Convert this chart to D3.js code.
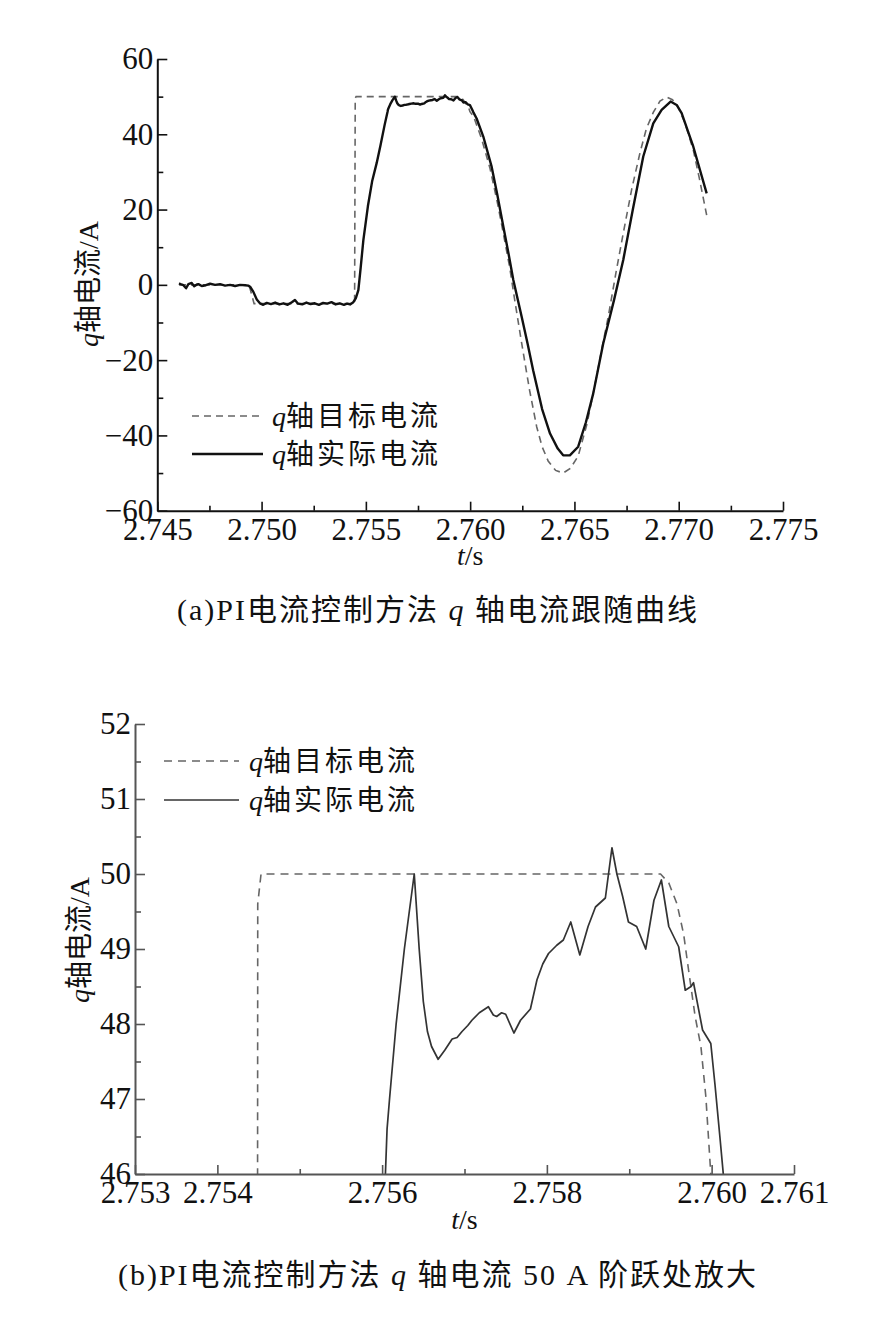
<!DOCTYPE html>
<html>
<head>
<meta charset="utf-8">
<script src="https://cdn.jsdelivr.net/npm/d3@7"></script>
<style>
  body { margin: 0; background: #fff; }
  svg text { font-family: "Liberation Serif", "Noto Sans CJK SC", serif; fill: #111; }
</style>
</head>
<body>
<svg width="880" height="1337"></svg>
<script>
// q-axis target current, [t (s), i (A)]
const targetCurrent = [
  [2.74604, 0], [2.7494, 0], [2.74964, -5], [2.75446, -5], [2.75449, 49.6], [2.75453, 50],
  [2.75938, 50], [2.75948, 49.88], [2.75958, 49.6], [2.75966, 49.2], [2.75972, 48.72],
  [2.7598, 48.1], [2.75987, 47.7], [2.75993, 47.03], [2.75999, 46.0], [2.76016, 44.8],
  [2.76055, 38.8], [2.76095, 31.0], [2.7613, 22.0], [2.76159, 13.7], [2.7619, 4.5],
  [2.76215, -4.5], [2.76247, -15.5], [2.76285, -28.0], [2.76319, -37.7], [2.76345, -43.0],
  [2.76374, -46.8], [2.7641, -49.3], [2.76446, -50.0], [2.7648, -48.8], [2.76518, -45.5],
  [2.7656, -37.0], [2.76606, -24.4], [2.76635, -16.0], [2.76662, -8.5], [2.767, 3.5],
  [2.76734, 13.7], [2.76775, 25.5], [2.76814, 35.0], [2.76845, 41.5], [2.76878, 45.8],
  [2.7691, 48.8], [2.76942, 49.9], [2.7697, 49.2], [2.76995, 47.5], [2.7703, 43.0],
  [2.7707, 35.8], [2.771, 28.0], [2.77134, 18.5]
];

// q-axis actual current, [t (s), i (A)]
const actualCurrent = [
  [2.74604, 0.4], [2.74615, 0.1], [2.74625, -0.1], [2.74638, -0.9], [2.74649, 0.2],
  [2.74665, 0.5], [2.74677, -0.4], [2.7469, 0.1], [2.74697, 0.2], [2.74713, -0.3],
  [2.74733, -0.1], [2.74753, 0.3], [2.74777, 0.0], [2.74801, 0.2], [2.74825, -0.2],
  [2.74849, 0.0], [2.74873, -0.3], [2.74897, 0.0], [2.74921, -0.1], [2.74936, -0.2],
  [2.74945, -0.5], [2.7496, -1.8], [2.74977, -3.9], [2.74992, -4.9], [2.75008, -5.3],
  [2.75025, -4.8], [2.75045, -5.1], [2.75065, -4.7], [2.75085, -5.2], [2.75105, -4.9],
  [2.75125, -5.3], [2.75145, -4.6], [2.7516, -4.0], [2.75175, -5.0], [2.75195, -5.2],
  [2.75215, -4.7], [2.75235, -5.1], [2.75255, -4.9], [2.75275, -5.3], [2.75295, -4.8],
  [2.75315, -5.0], [2.75335, -4.6], [2.75355, -5.2], [2.75375, -4.9], [2.75395, -5.3],
  [2.7541, -5.0], [2.75424, -5.2], [2.7544, -4.6], [2.75452, -3.5], [2.75464, -1.4],
  [2.75475, 4.5], [2.75488, 11.9], [2.7551, 21.0], [2.7553, 27.5], [2.75552, 32.4],
  [2.7557, 37.0], [2.7559, 42.5], [2.75604, 46.0], [2.75606, 46.6], [2.75609, 47.0],
  [2.75617, 48.0], [2.75627, 49.0], [2.75639, 50.0], [2.75645, 49.0], [2.7565, 48.3],
  [2.75655, 47.9], [2.7566, 47.7], [2.75668, 47.53], [2.75676, 47.65], [2.75685, 47.8],
  [2.75691, 47.82], [2.75697, 47.9], [2.75704, 47.98], [2.75709, 48.05], [2.75718, 48.15],
  [2.75729, 48.23], [2.75735, 48.12], [2.75739, 48.1], [2.75745, 48.15], [2.7575, 48.13],
  [2.7576, 47.88], [2.75768, 48.05], [2.7578, 48.2], [2.75788, 48.59], [2.75795, 48.8],
  [2.75802, 48.94], [2.75812, 49.05], [2.7582, 49.12], [2.75829, 49.36], [2.7584, 48.92],
  [2.7585, 49.3], [2.75859, 49.56], [2.75871, 49.68], [2.75879, 50.35], [2.75885, 50.0],
  [2.75892, 49.7], [2.75899, 49.36], [2.75909, 49.3], [2.7592, 49.0], [2.7593, 49.65],
  [2.75939, 49.92], [2.75948, 49.3], [2.7596, 49.03], [2.75968, 48.45], [2.75975, 48.5],
  [2.75978, 48.55], [2.75989, 47.92], [2.75999, 47.74], [2.76004, 47.2], [2.7601, 46.5],
  [2.76015, 45.9], [2.76031, 44.2], [2.76063, 39.4], [2.76103, 31.4], [2.7613, 24.0],
  [2.76159, 15.5], [2.76185, 8.0], [2.76207, 1.3], [2.76247, -8.5], [2.76275, -15.5],
  [2.76302, -22.7], [2.76345, -33.0], [2.76383, -39.5], [2.7642, -43.5], [2.76446, -45.3],
  [2.76478, -45.3], [2.76518, -43.0], [2.76555, -36.5], [2.7659, -28.9], [2.76638, -15.6],
  [2.7669, -4.0], [2.76734, 6.6], [2.7678, 20.0], [2.7683, 34.1], [2.76878, 42.9],
  [2.76918, 46.5], [2.76961, 48.7], [2.7699, 47.8], [2.77014, 45.6], [2.7707, 36.7],
  [2.77134, 24.3]
];

// tick values
const topXTicks = [2.745, 2.750, 2.755, 2.760, 2.765, 2.770, 2.775];
const topXMinor = [2.7475, 2.7525, 2.7575, 2.7625, 2.7675, 2.7725];
const topYTicks = [-60, -40, -20, 0, 20, 40, 60];
const topYMinor = [-50, -30, -10, 10, 30, 50];
const botXTicks = [2.753, 2.754, 2.756, 2.758, 2.760, 2.761];
const botXMinor = [2.755, 2.757, 2.759];
const botYTicks = [46, 47, 48, 49, 50, 51, 52];
const botYMinor = [46.5, 47.5, 48.5, 49.5, 50.5, 51.5];

const legendNames = ["轴目标电流", "轴实际电流"];
const captions = [
  ["(a)PI电流控制方法 ", "q", " 轴电流跟随曲线"],
  ["(b)PI电流控制方法 ", "q", " 轴电流 50 A 阶跃处放大"]
];

const svg = d3.select("svg");
const serif = "'Liberation Serif', 'Times New Roman', serif";

const panels = [
  {
    id: "a", left: 157.3, right: 783, top: 59, bottom: 510.7,
    xDomain: [2.745, 2.775], yDomain: [-60, 60],
    xTicks: topXTicks, xMinor: topXMinor, yTicks: topYTicks, yMinor: topYMinor,
    axisColor: "#111", actualColor: "#111", actualWidth: 2.4,
    targetColor: "#666", targetWidth: 1.6, dash: "7,5",
    legendX: [192, 263], legendY: [416, 454], legendText: 272,
    yTitle: [88, 284], xTitleY: 565, captionY: 620
  },
  {
    id: "b", left: 135, right: 794, top: 724, bottom: 1174,
    xDomain: [2.753, 2.761], yDomain: [46, 52],
    xTicks: botXTicks, xMinor: botXMinor, yTicks: botYTicks, yMinor: botYMinor,
    axisColor: "#555", actualColor: "#333", actualWidth: 1.7,
    targetColor: "#666", targetWidth: 1.6, dash: "8,6",
    legendX: [164, 239], legendY: [761, 800], legendText: 249,
    yTitle: [79, 940], xTitleY: 1229, captionY: 1285
  }
];

const minus = v => (v < 0 ? "\u2212" + Math.abs(v) : String(v));

panels.forEach(p => {
  const x = d3.scaleLinear().domain(p.xDomain).range([p.left, p.right]);
  const y = d3.scaleLinear().domain(p.yDomain).range([p.bottom, p.top]);
  const g = svg.append("g");

  g.append("clipPath").attr("id", "clip-" + p.id)
    .append("rect")
    .attr("x", p.left).attr("y", p.top)
    .attr("width", p.right - p.left).attr("height", p.bottom - p.top);

  const line = d3.line().x(d => x(d[0])).y(d => y(d[1]));

  const plot = g.append("g").attr("clip-path", "url(#clip-" + p.id + ")");
  plot.append("path")
    .datum(targetCurrent)
    .attr("d", line)
    .attr("fill", "none")
    .attr("stroke", p.targetColor)
    .attr("stroke-width", p.targetWidth)
    .attr("stroke-dasharray", p.dash);
  plot.append("path")
    .datum(actualCurrent)
    .attr("d", line)
    .attr("fill", "none")
    .attr("stroke", p.actualColor)
    .attr("stroke-width", p.actualWidth)
    .attr("stroke-linejoin", "round");

  // axes, ticks pointing inward
  g.append("g").attr("transform", `translate(0,${p.bottom})`)
    .call(d3.axisBottom(x).tickValues(p.xTicks).tickSize(-9).tickSizeOuter(0)
      .tickPadding(7).tickFormat(d3.format(".3f")));
  g.append("g").attr("transform", `translate(0,${p.bottom})`)
    .call(d3.axisBottom(x).tickValues(p.xMinor).tickSize(-5).tickFormat(""))
    .call(a => a.select(".domain").remove());

  g.append("g").attr("transform", `translate(${p.left},0)`)
    .call(d3.axisLeft(y).tickValues(p.yTicks).tickSize(-10).tickSizeOuter(0)
      .tickPadding(4).tickFormat(minus));
  g.append("g").attr("transform", `translate(${p.left},0)`)
    .call(d3.axisLeft(y).tickValues(p.yMinor).tickSize(-6).tickFormat(""))
    .call(a => a.select(".domain").remove());

  g.selectAll(".domain").attr("stroke", p.axisColor).attr("stroke-width", 2);
  g.selectAll(".tick line").attr("stroke", p.axisColor).attr("stroke-width", 1.6);
  g.selectAll(".tick text")
    .attr("font-family", serif).attr("font-size", 31).attr("fill", "#111")
    .style("font-family", serif).style("font-size", "31px");

  // legend
  legendNames.forEach((name, i) => {
    g.append("line")
      .attr("x1", p.legendX[0]).attr("x2", p.legendX[1])
      .attr("y1", p.legendY[i]).attr("y2", p.legendY[i])
      .attr("stroke", i === 0 ? p.targetColor : p.actualColor)
      .attr("stroke-width", i === 0 ? p.targetWidth : p.actualWidth)
      .attr("stroke-dasharray", i === 0 ? p.dash : null);
    const t = g.append("text")
      .attr("x", p.legendText).attr("y", p.legendY[i])
      .attr("dy", "0.36em").attr("font-size", 28);
    t.append("tspan").attr("font-style", "italic").text("q");
    t.append("tspan").attr("letter-spacing", 3).text(name);
  });

  // axis titles
  const yt = g.append("text")
    .attr("transform", `translate(${p.yTitle[0]},${p.yTitle[1]}) rotate(-90)`)
    .attr("text-anchor", "middle").attr("dy", "0.35em").attr("font-size", 28);
  yt.append("tspan").attr("font-style", "italic").text("q");
  yt.append("tspan").text("轴电流/A");

  const xt = g.append("text")
    .attr("x", (p.left + p.right) / 2).attr("y", p.xTitleY)
    .attr("text-anchor", "middle").attr("font-size", 28);
  xt.append("tspan").attr("font-style", "italic").text("t");
  xt.append("tspan").text("/s");
});

// captions
captions.forEach((c, i) => {
  const t = svg.append("text")
    .attr("x", 438).attr("y", panels[i].captionY)
    .attr("text-anchor", "middle").attr("font-size", 30)
    .attr("letter-spacing", 2);
  t.append("tspan").text(c[0]);
  t.append("tspan").attr("font-style", "italic").text(c[1]);
  t.append("tspan").text(c[2]);
});
</script>
</body>
</html>
